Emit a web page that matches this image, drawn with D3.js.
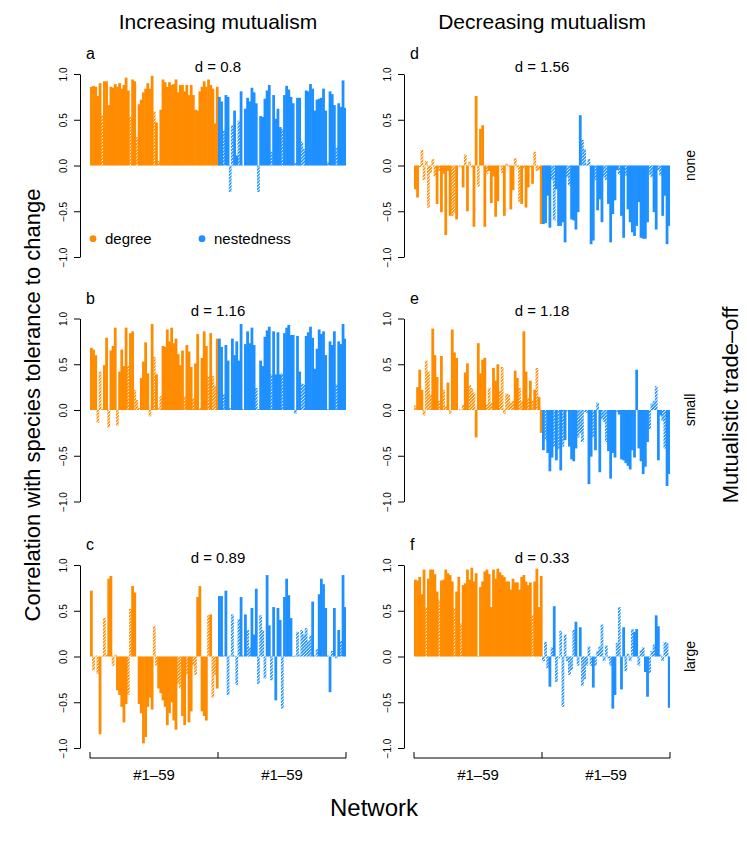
<!DOCTYPE html>
<html><head><meta charset="utf-8">
<script src="https://cdn.jsdelivr.net/npm/d3@7"></script>
<style>body{margin:0;background:#fff} svg{display:block;font-family:"Liberation Sans",Arial,Helvetica,sans-serif}</style>
</head><body><svg id="chart" width="747" height="841"></svg>
<script>
// ---------------- data ----------------
const columnTitles = ["Increasing mutualism", "Decreasing mutualism"];
const rowLabels = ["none", "small", "large"];
const panelLetters = ["a", "b", "c", "d", "e", "f"];
const dValues = ["0.8", "1.16", "0.89", "1.56", "1.18", "0.33"];
const legendLabels = ["degree", "nestedness"];
const yTicks = [-1, -0.5, 0, 0.5, 1];
const yTickLabels = ["\u22121.0", "\u22120.5", "0.0", "0.5", "1.0"];
const groupLabels = ["#1\u201359", "#1\u201359"];

// panel a (increasing, none)
const degA = [0.86,0.87,0.86,0.76,0.90,0.55,0.92,0.92,0.66,0.86,0.85,0.89,0.86,0.90,0.84,0.88,0.96,0.82,0.53,0.94,0.92,0.31,0.67,0.72,0.80,0.84,0.90,0.84,0.98,0.59,0.47,0.05,0.61,0.94,0.91,0.86,0.91,0.88,0.89,0.94,0.80,0.88,0.88,0.81,0.88,0.77,0.88,0.77,0.61,0.60,0.81,0.86,0.92,0.86,0.94,0.88,0.84,0.46,0.86];
const nestA = [0.75,0.70,0.38,0.77,0.75,-0.29,0.44,0.60,0.11,0.49,0.81,0.00,0.62,0.74,0.70,0.85,0.80,0.68,-0.29,0.54,0.53,0.73,0.82,0.88,0.15,0.77,0.51,0.62,0.42,0.40,0.77,0.87,0.83,0.75,0.68,0.03,0.74,0.74,0.26,0.18,0.82,0.81,0.89,0.84,0.60,0.72,0.73,0.74,0.84,0.60,0.04,0.81,0.78,0.66,0.20,0.68,0.64,0.93,0.63];
const nsDegA = [5,18,21,29,31];
const nsNestA = [2,5,6,9,11,18,24,29,35,38,39,50,54];
// panel b (increasing, small)
const degB = [0.68,0.66,0.60,-0.14,0.42,0.01,0.49,0.79,-0.19,0.65,0.70,0.90,-0.17,0.42,0.66,0.48,0.90,0.48,0.84,0.86,0.22,0.11,0.02,0.35,0.53,0.74,0.40,-0.07,0.94,0.58,0.39,0.02,0.15,0.70,0.69,0.88,0.75,0.90,0.73,0.78,0.61,0.49,0.65,0.15,0.71,0.64,0.47,0.13,0.51,0.83,0.02,0.57,0.86,0.70,0.37,0.84,0.37,0.26,0.78];
const nestB = [0.78,0.69,0.17,0.71,0.54,0.02,0.78,0.60,0.75,0.54,0.94,0.01,0.72,0.86,0.73,0.90,0.71,0.24,0.01,0.54,0.48,0.80,0.87,0.91,0.39,0.86,0.39,0.85,0.39,0.40,0.84,0.90,0.93,0.82,0.82,-0.04,0.81,0.42,0.29,0.28,0.81,0.85,0.91,0.79,0.45,0.67,0.88,0.83,0.86,0.60,0.01,0.75,0.71,0.86,0.28,0.75,0.72,0.94,0.78];
const nsDegB = [3,4,5,8,12,17,20,21,22,27,29,31,32,43,47,50,54,56,57];
const nsNestB = [2,5,11,17,18,24,29,35,38,39,50,54];
// panel c (increasing, large)
const degC = [0.72,-0.15,0.01,-0.19,-0.85,0.01,0.42,0.02,0.85,0.88,-0.10,0.02,-0.37,-0.42,-0.55,-0.72,-0.52,-0.42,0.52,0.77,0.70,0.00,-0.52,-0.62,-0.95,-0.88,-0.55,-0.45,-0.58,0.33,-0.10,-0.35,-0.40,-0.48,-0.55,-0.75,-0.62,-0.50,-0.70,-0.80,-0.30,-0.35,-0.65,-0.75,-0.20,-0.72,-0.60,-0.10,-0.20,0.65,0.77,-0.60,-0.65,-0.70,0.45,0.46,-0.45,-0.20,-0.35];
const nestC = [0.66,0.66,0.01,0.72,-0.42,0.01,0.46,0.01,-0.31,0.41,0.65,0.01,0.46,0.29,0.10,0.53,0.24,0.74,-0.30,0.45,0.29,-0.24,0.89,0.34,-0.26,0.54,-0.48,0.53,0.40,-0.57,0.65,0.85,0.67,0.42,0.00,0.01,0.27,0.02,0.29,0.24,0.31,0.17,0.23,0.60,0.01,0.08,0.68,0.85,0.79,0.53,0.01,-0.39,0.06,0.53,-0.02,0.29,0.17,0.89,0.54];
const nsDegC = [1,2,3,5,6,7,10,11,17,18,21,29,30,40,41,44,47,48,54,56,57];
const nsNestC = [2,4,5,6,7,8,9,11,13,14,18,19,20,21,24,29,35,36,37,38,39,40,41,42,44,45,50,52,54,56];
// panel d (decreasing, none)
const degD = [-0.26,-0.35,-0.02,0.17,-0.16,0.05,-0.46,-0.08,0.07,-0.12,-0.42,-0.06,-0.51,-0.09,-0.76,-0.06,-0.55,-0.55,-0.52,-0.59,-0.01,-0.02,-0.24,0.12,-0.50,0.04,-0.02,-0.67,0.76,-0.23,0.40,0.44,-0.67,-0.09,-0.06,-0.41,-0.12,-0.56,-0.39,-0.01,-0.08,-0.55,0.02,-0.01,-0.48,-0.27,0.08,-0.02,-0.40,-0.42,-0.03,-0.46,-0.24,-0.02,-0.20,0.15,-0.06,-0.05,-0.64];
const nestD = [-0.64,-0.63,-0.33,-0.68,-0.16,-0.60,-0.26,-0.66,-0.66,-0.62,-0.84,-0.13,-0.22,-0.59,-0.60,-0.70,-0.51,0.55,0.28,0.18,0.02,0.07,-0.86,-0.82,-0.16,-0.49,-0.37,-0.62,-0.13,-0.16,-0.42,-0.84,-0.53,-0.38,-0.05,-0.10,-0.55,-0.79,-0.11,-0.48,-0.62,-0.73,-0.77,-0.66,-0.40,-0.79,-0.80,-0.80,-0.62,-0.10,-0.13,-0.51,-0.70,-0.05,-0.11,-0.55,-0.33,-0.86,-0.66];
const nsDegD = [2,3,4,5,6,7,8,9,11,17,18,20,21,23,25,26,29,33,39,40,42,46,47,48,50,53,55,56,57];
const nsNestD = [4,5,11,12,18,19,20,21,24,28,29,35,38,49,50,53,54];
// panel e (decreasing, small)
const degE = [0.05,0.25,0.44,0.22,-0.06,0.54,0.42,0.17,0.89,0.60,0.36,0.10,0.59,0.22,0.04,0.30,-0.04,0.88,0.63,0.57,0.01,0.00,0.06,0.41,0.51,0.27,0.24,0.19,-0.30,0.73,0.40,0.55,0.57,0.06,0.24,0.08,0.46,0.32,0.50,0.21,0.47,-0.04,0.18,0.17,0.08,0.10,0.43,0.35,0.24,0.10,0.86,0.42,0.13,0.32,0.10,0.22,0.46,0.14,-0.25];
const nestE = [-0.44,-0.33,-0.47,-0.67,-0.52,-0.40,-0.55,-0.43,-0.66,-0.40,-0.33,-0.02,-0.40,-0.54,-0.56,-0.42,-0.30,-0.25,-0.35,-0.02,-0.03,-0.81,-0.51,-0.30,-0.44,0.08,-0.68,-0.10,-0.13,-0.35,-0.45,-0.75,-0.47,-0.52,-0.02,-0.05,-0.54,-0.55,-0.58,-0.61,-0.65,-0.44,-0.52,0.44,-0.42,-0.56,-0.70,-0.62,-0.35,-0.21,0.07,0.10,0.26,-0.55,-0.06,-0.12,-0.42,-0.83,-0.70];
const nsDegE = [0,4,5,6,7,11,13,14,16,20,21,22,25,26,27,33,34,35,39,40,41,42,43,44,45,48,49,52,54,56];
const nsNestE = [1,5,7,9,11,16,17,18,19,20,23,25,27,28,29,34,49,50,51,52,55,56];
// panel f (decreasing, large)
const degF = [0.84,0.83,0.87,0.68,0.95,0.54,0.85,0.95,0.95,0.90,0.71,0.62,0.83,0.84,0.95,0.91,0.89,0.82,0.53,0.71,0.87,0.36,0.78,0.80,0.95,0.84,0.97,0.82,0.91,0.00,0.76,0.82,0.93,0.95,0.90,0.54,0.95,0.85,0.96,0.92,0.89,0.87,0.82,0.82,0.73,0.85,0.81,0.81,0.73,0.87,0.89,0.82,0.78,0.81,0.45,0.82,0.96,0.54,0.88];
const nestF = [-0.05,0.16,-0.13,-0.33,0.10,0.55,-0.28,-0.02,0.28,-0.55,0.24,-0.05,-0.20,-0.15,0.29,0.38,-0.10,0.32,-0.32,-0.25,-0.10,0.11,-0.10,-0.34,-0.10,0.06,0.11,0.35,-0.05,0.12,-0.02,-0.10,-0.57,-0.42,0.15,0.54,-0.36,0.32,-0.16,0.03,-0.05,0.30,0.27,0.30,-0.10,0.07,0.10,-0.17,-0.44,-0.18,0.06,0.13,0.45,0.33,0.02,-0.05,0.16,0.15,-0.56];
const nsDegF = [5,11,18,21,54];
const nsNestF = [0,1,2,4,6,7,8,9,10,11,12,13,14,16,18,19,20,21,22,24,25,26,27,28,29,30,31,34,35,38,39,40,41,44,45,46,49,50,51,54,55,56,57];

// ---------------- layout ----------------
const FONT = '"Liberation Sans", Arial, Helvetica, sans-serif';
const colorDeg = "#FF8C00", colorNest = "#1E90FF";
const colX0 = [90, 414];          // left edge of bar area per column
const barAreaW = 256;
const rowTop = [74, 318.5, 565];  // y of value 1.0 per row
const plotH = 183;                // 1.0 -> -1.0

const panels = [
  {deg: degA, nest: nestA, nsDeg: nsDegA, nsNest: nsNestA, col: 0, row: 0},
  {deg: degB, nest: nestB, nsDeg: nsDegB, nsNest: nsNestB, col: 0, row: 1},
  {deg: degC, nest: nestC, nsDeg: nsDegC, nsNest: nsNestC, col: 0, row: 2},
  {deg: degD, nest: nestD, nsDeg: nsDegD, nsNest: nsNestD, col: 1, row: 0},
  {deg: degE, nest: nestE, nsDeg: nsDegE, nsNest: nsNestE, col: 1, row: 1},
  {deg: degF, nest: nestF, nsDeg: nsDegF, nsNest: nsNestF, col: 1, row: 2}
];

const svg = d3.select("#chart");
const defs = svg.append("defs");
[["hatch-deg", colorDeg], ["hatch-nest", colorNest]].forEach(([id, c]) => {
  const p = defs.append("pattern").attr("id", id)
    .attr("patternUnits", "userSpaceOnUse")
    .attr("width", 2.3).attr("height", 2.3)
    .attr("patternTransform", "rotate(45)");
  p.append("rect").attr("x", 0).attr("y", 0).attr("width", 1.45).attr("height", 2.3)
    .attr("fill", c);
});

panels.forEach((p, k) => {
  const x0 = colX0[p.col], y1 = rowTop[p.row];
  const n = p.deg.length + p.nest.length;
  const x = d3.scaleBand().domain(d3.range(n)).range([x0, x0 + barAreaW]).padding(0);
  const y = d3.scaleLinear().domain([-1, 1]).range([y1 + plotH, y1]);
  const nsD = new Set(p.nsDeg), nsN = new Set(p.nsNest);
  const bars = p.deg.map((v, i) => ({i, v, grp: "deg", ns: nsD.has(i)}))
    .concat(p.nest.map((v, i) => ({i: i + p.deg.length, v, grp: "nest", ns: nsN.has(i)})));
  const g = svg.append("g");
  g.selectAll("rect").data(bars).enter().append("rect")
    .attr("x", d => x(d.i))
    .attr("width", d => x.bandwidth() + (d.i === n - 1 ? 0 : 0.6))
    .attr("y", d => Math.min(y(d.v), y(0)))
    .attr("height", d => Math.max(0.4, Math.abs(y(d.v) - y(0))))
    .attr("fill", d => d.ns ? (d.grp === "deg" ? "url(#hatch-deg)" : "url(#hatch-nest)")
                            : (d.grp === "deg" ? colorDeg : colorNest));

  // y axis
  const ax = g.append("g").attr("transform", `translate(${x0 - 10},0)`)
    .call(d3.axisLeft(y).tickValues(yTicks).tickSize(6).tickSizeOuter(0)
      .tickFormat((d, i) => yTickLabels[i]));
  ax.select(".domain").attr("stroke", "#000").attr("stroke-width", 1);
  ax.selectAll(".tick line").attr("stroke", "#000");
  ax.selectAll(".tick text")
    .attr("transform", "rotate(-90)")
    .attr("x", 0).attr("y", -13).attr("dy", 0)
    .attr("text-anchor", "middle")
    .style("font-size", "10px").style("font-family", FONT).attr("fill", "#000");

  // panel letter
  g.append("text").attr("x", x0 - 4).attr("y", y1 - 15)
    .style("font-size", "16px").text(panelLetters[k]);
  // d value
  g.append("text").attr("x", x0 + barAreaW / 2).attr("y", y1 - 2.5)
    .attr("text-anchor", "middle").style("font-size", "15px")
    .text("d = " + dValues[k]);

  // legend in panel a
  if (k === 0) {
    const ly = y(-0.8);
    [[x0 + 3, colorDeg, legendLabels[0]], [x0 + 112, colorNest, legendLabels[1]]].forEach(([lx, c, t]) => {
      g.append("circle").attr("cx", lx).attr("cy", ly).attr("r", 3.4).attr("fill", c);
      g.append("text").attr("x", lx + 12).attr("y", ly + 5).style("font-size", "15px").text(t);
    });
  }

  // bottom axis for last row
  if (p.row === 2) {
    const yb = 758;
    const ticksX = [x(0), x(p.deg.length), x(n - 1) + x.bandwidth()];
    g.append("line").attr("x1", ticksX[0]).attr("x2", ticksX[2]).attr("y1", yb).attr("y2", yb).attr("stroke", "#000");
    ticksX.forEach(tx => g.append("line").attr("x1", tx).attr("x2", tx).attr("y1", yb).attr("y2", yb - 6).attr("stroke", "#000"));
    [[0, p.deg.length], [p.deg.length, n]].forEach(([a, b], j) => {
      g.append("text").attr("x", (x(a) + x(b - 1) + x.bandwidth()) / 2).attr("y", yb + 22)
        .attr("text-anchor", "middle").style("font-size", "15px").text(groupLabels[j]);
    });
  }
});

// column titles
columnTitles.forEach((t, j) => {
  svg.append("text").attr("x", colX0[j] + barAreaW / 2).attr("y", 29)
    .attr("text-anchor", "middle").style("font-size", "21px").text(t);
});
// row labels on the right
rowLabels.forEach((t, r) => {
  const cy = rowTop[r] + plotH / 2;
  svg.append("text").attr("transform", `translate(695,${cy}) rotate(-90)`)
    .attr("text-anchor", "middle").style("font-size", "14px").text(t);
});
// axis titles
svg.append("text").attr("transform", "translate(40,405) rotate(-90)")
  .attr("text-anchor", "middle").style("font-size", "22px")
  .text("Correlation with species tolerance to change");
svg.append("text").attr("transform", "translate(738,405) rotate(-90)")
  .attr("text-anchor", "middle").style("font-size", "22px")
  .text("Mutualistic trade\u2013off");
svg.append("text").attr("x", 374).attr("y", 816)
  .attr("text-anchor", "middle").style("font-size", "24px").text("Network");
</script>
</body></html>
